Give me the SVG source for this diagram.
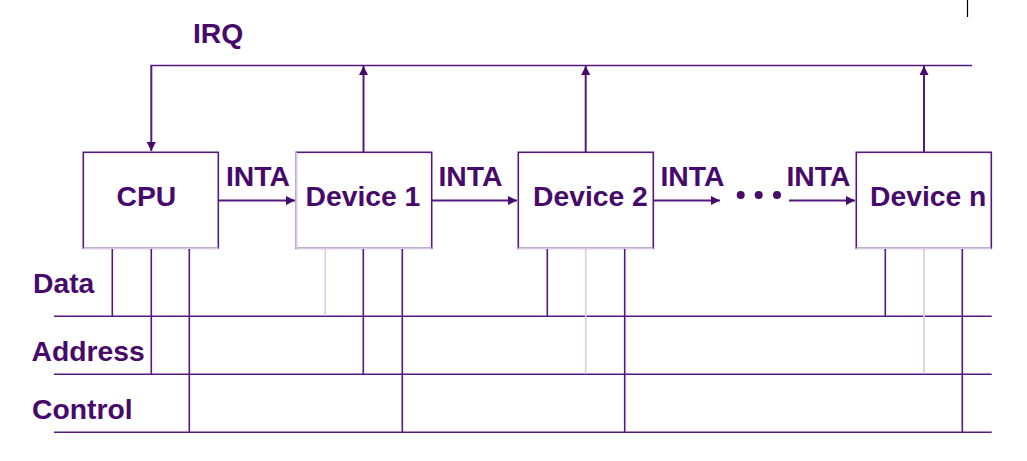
<svg xmlns="http://www.w3.org/2000/svg" width="1027" height="461" viewBox="0 0 1027 461">
<style>
.t{font-family:"Liberation Sans",Arial,sans-serif;font-weight:bold;font-size:28.3px;fill:#47096a}
.box{fill:#fff;stroke:#55197f;stroke-width:1.6}
.ln{stroke:#55197f;stroke-width:1.6;fill:none}
.lt{stroke:#d9cbe3;stroke-width:1.6;fill:none}
.ar{stroke:#55197f;stroke-width:2;fill:none}
</style>
<defs>
<marker id="ah" viewBox="0 0 10 10" refX="10" refY="5" markerWidth="5" markerHeight="4.5" markerUnits="strokeWidth" orient="auto">
<path d="M0,0 L10,5 L0,10 z" fill="#47096a"/>
</marker>
</defs>
<line x1="967.5" y1="0" x2="967.5" y2="17" stroke="#000" stroke-width="1.2"/>
<text class="t" x="193" y="42.5">IRQ</text>
<text class="t" x="33" y="293">Data</text>
<text class="t" x="31.5" y="360.5">Address</text>
<text class="t" x="32" y="419">Control</text>
<g id="connectors">
<polyline class="ln" points="972,65.5 151.3,65.5 151.3,66"/>
<line class="ar" x1="151.3" y1="65.5" x2="151.3" y2="151" marker-end="url(#ah)"/>
<line class="ar" x1="363.5" y1="152" x2="363.5" y2="66" marker-end="url(#ah)"/>
<line class="ar" x1="585.7" y1="152" x2="585.7" y2="66" marker-end="url(#ah)"/>
<line class="ar" x1="924" y1="152" x2="924" y2="66" marker-end="url(#ah)"/>
<line class="ar" x1="218" y1="200.5" x2="295" y2="200.5" marker-end="url(#ah)"/>
<line class="ar" x1="432" y1="200.5" x2="517" y2="200.5" marker-end="url(#ah)"/>
<line class="ar" x1="653" y1="200.5" x2="720" y2="200.5" marker-end="url(#ah)"/>
<line class="ar" x1="789" y1="200.5" x2="855" y2="200.5" marker-end="url(#ah)"/>
<text class="t" x="226" y="186">INTA</text>
<text class="t" x="438.5" y="186">INTA</text>
<text class="t" x="660.5" y="186">INTA</text>
<text class="t" x="786.5" y="186">INTA</text>
<circle cx="740.7" cy="195" r="4" fill="#47096a"/>
<circle cx="758.7" cy="195" r="4" fill="#47096a"/>
<circle cx="777" cy="195" r="4" fill="#47096a"/>
<line class="ln" x1="54" y1="316.3" x2="991.7" y2="316.3"/>
<line class="ln" x1="54" y1="374.3" x2="991.7" y2="374.3"/>
<line class="ln" x1="54" y1="432.3" x2="991.7" y2="432.3"/>
<line class="ln" x1="112.3" y1="248" x2="112.3" y2="316.3"/>
<line class="ln" x1="151.3" y1="248" x2="151.3" y2="374.3"/>
<line class="ln" x1="189.3" y1="248" x2="189.3" y2="432.3"/>
<line class="lt" x1="325.3" y1="249" x2="325.3" y2="315.5"/>
<line class="ln" x1="363.3" y1="248" x2="363.3" y2="374.3"/>
<line class="ln" x1="402.3" y1="248" x2="402.3" y2="432.3"/>
<line class="ln" x1="547.3" y1="248" x2="547.3" y2="316.3"/>
<line class="lt" x1="585.7" y1="249" x2="585.7" y2="373.5"/>
<line class="ln" x1="624.7" y1="248" x2="624.7" y2="432.3"/>
<line class="ln" x1="885.3" y1="248" x2="885.3" y2="316.3"/>
<line class="lt" x1="924" y1="249" x2="924" y2="373.5"/>
<line class="ln" x1="962.3" y1="248" x2="962.3" y2="432.3"/>
</g>
<g id="cpu">
<rect class="box" x="83.3" y="152.3" width="135" height="96"/>
<line class="lt" x1="83.3" y1="248.3" x2="218.3" y2="248.3"/>
<text class="t" x="116.5" y="205.5">CPU</text>
</g>
<g id="device1">
<rect class="box" x="296.3" y="152.3" width="135.4" height="96"/>
<line class="lt" x1="296.3" y1="152.3" x2="296.3" y2="248.3"/>
<line class="lt" x1="296.3" y1="248.3" x2="431.7" y2="248.3"/>
<text class="t" x="305.5" y="205.5">Device 1</text>
</g>
<g id="device2">
<rect class="box" x="518.3" y="152.3" width="135" height="96"/>
<line class="lt" x1="518.3" y1="248.3" x2="653.3" y2="248.3"/>
<text class="t" x="533" y="205.5">Device 2</text>
</g>
<g id="devicen">
<rect class="box" x="856.3" y="152.3" width="135" height="96"/>
<line class="lt" x1="856.3" y1="248.3" x2="991.3" y2="248.3"/>
<text class="t" x="870" y="205.5">Device n</text>
</g>
</svg>
